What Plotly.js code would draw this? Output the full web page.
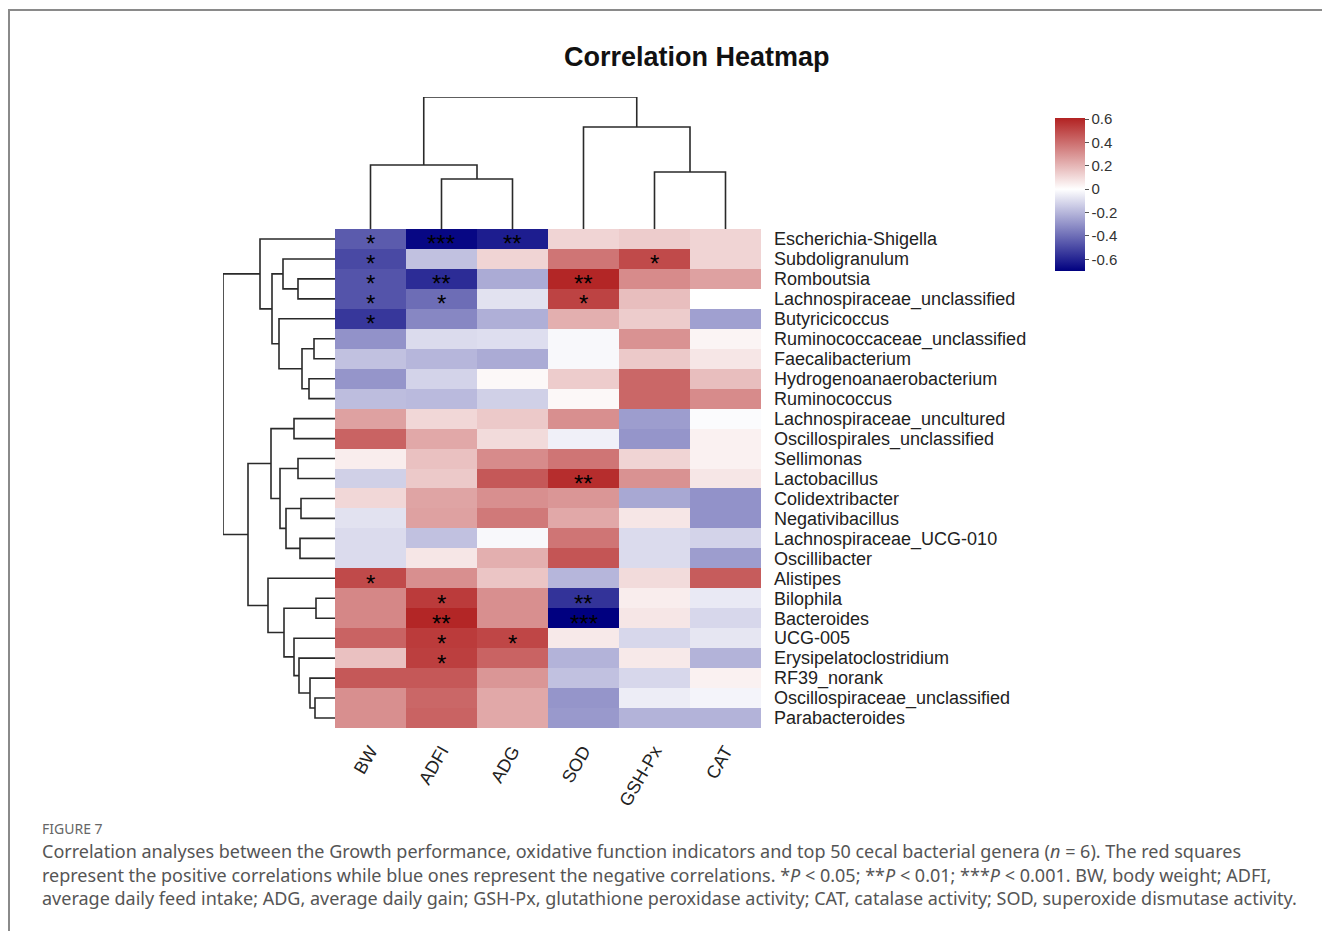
<!DOCTYPE html>
<html><head><meta charset="utf-8">
<script src="https://cdn.plot.ly/plotly-3.0.1.min.js"></script>
<style>html,body{margin:0;padding:0;background:#fff}#chart{width:1322px;height:931px}</style>
</head><body><div id="chart"></div>
<script>
// ---- data ----
const genera = ['Escherichia-Shigella','Subdoligranulum','Romboutsia','Lachnospiraceae_unclassified','Butyricicoccus',
  'Ruminococcaceae_unclassified','Faecalibacterium','Hydrogenoanaerobacterium','Ruminococcus','Lachnospiraceae_uncultured',
  'Oscillospirales_unclassified','Sellimonas','Lactobacillus','Colidextribacter','Negativibacillus',
  'Lachnospiraceae_UCG-010','Oscillibacter','Alistipes','Bilophila','Bacteroides',
  'UCG-005','Erysipelatoclostridium','RF39_norank','Oscillospiraceae_unclassified','Parabacteroides'];
const indicators = ['BW','ADFI','ADG','SOD','GSH-Px','CAT'];

const BW    = [-0.45,-0.50,-0.47,-0.47,-0.55,-0.30,-0.17,-0.29,-0.18,0.26,0.43,0.05,-0.13,0.11,-0.08,-0.10,-0.10,0.50,0.33,0.33,0.43,0.17,0.46,0.31,0.31];
const ADFI  = [-0.68,-0.17,-0.58,-0.40,-0.33,-0.10,-0.20,-0.12,-0.19,0.11,0.24,0.17,0.15,0.25,0.26,-0.17,0.07,0.31,0.54,0.60,0.54,0.53,0.46,0.42,0.43];
const ADG   = [-0.62,0.12,-0.23,-0.08,-0.22,-0.09,-0.23,0.02,-0.13,0.15,0.10,0.32,0.46,0.31,0.37,-0.02,0.22,0.16,0.31,0.31,0.51,0.43,0.29,0.24,0.24];
const SOD   = [0.12,0.38,0.60,0.52,0.22,-0.02,-0.02,0.14,0.02,0.31,-0.04,0.38,0.58,0.29,0.24,0.38,0.47,-0.20,-0.56,-0.70,0.06,-0.21,-0.17,-0.29,-0.28];
const GSHPx = [0.14,0.50,0.32,0.18,0.14,0.30,0.15,0.42,0.42,-0.27,-0.29,0.12,0.30,-0.24,0.07,-0.10,-0.10,0.10,0.05,0.07,-0.11,0.06,-0.11,-0.05,-0.21];
const CAT   = [0.12,0.12,0.26,0.00,-0.26,0.03,0.07,0.18,0.32,-0.01,0.04,0.04,0.07,-0.30,-0.30,-0.12,-0.27,0.45,-0.06,-0.11,-0.07,-0.21,0.04,-0.03,-0.21];

const starBW    = ['*','*','*','*','*','','','','','','','','','','','','','*','','','','','','',''];
const starADFI  = ['***','','**','*','','','','','','','','','','','','','','','*','**','*','*','','',''];
const starADG   = ['**','','','','','','','','','','','','','','','','','','','','*','','','',''];
const starSOD   = ['','','**','*','','','','','','','','','**','','','','','','**','***','','','','',''];
const starGSHPx = ['','*','','','','','','','','','','','','','','','','','','','','','','',''];
const starCAT   = ['','','','','','','','','','','','','','','','','','','','','','','','',''];

// hierarchical clustering merges: [childA, childB, height]; leaves 0..n-1, merges n, n+1, ...
const rowLinkage = [
  [2,3,37],[1,25,52],[5,6,21],[7,8,26],[27,28,33],[4,29,56],[26,30,63],[0,31,75],
  [9,10,41],[11,12,37],[13,14,34],[15,16,35],[35,36,49],[34,37,55],[33,38,64],
  [23,24,20],[22,40,25],[21,41,36],[20,42,41],[18,19,19],[44,43,51],[17,45,67],
  [39,46,87],[32,47,112]
];
const colLinkage = [[1,2,50],[0,6,64],[4,5,57],[3,8,102],[7,9,132]];

const cbTicks = [-0.6,-0.4,-0.2,0,0.2,0.4,0.6];
const cbTickText = ['-0.6','-0.4','-0.2','0','0.2','0.4','0.6'];
const zMin = -0.70, zMax = 0.61;

// ---- build ----
const W = 1322, H = 931;
const px = v => v / W, py = v => 1 - v / H;
const cols = [BW, ADFI, ADG, SOD, GSHPx, CAT];
const stars = [starBW, starADFI, starADG, starSOD, starGSHPx, starCAT];
const z = genera.map((g, r) => cols.map(c => c[r]));

function dendroPaths(link, n) {
  const pos = [], hgt = [];
  for (let i = 0; i < n; i++) { pos[i] = i; hgt[i] = 0; }
  const P = [], Hh = [];
  link.forEach((m, k) => {
    const [a, b, h] = m;
    P.push(pos[a], pos[a], pos[b], pos[b], null);
    Hh.push(hgt[a], h, h, hgt[b], null);
    pos[n + k] = (pos[a] + pos[b]) / 2; hgt[n + k] = h;
  });
  return {P, Hh};
}
const rowD = dendroPaths(rowLinkage, genera.length);
const colD = dendroPaths(colLinkage, indicators.length);
const rowMaxH = Math.max(...rowLinkage.map(m => m[2]));
const colMaxH = Math.max(...colLinkage.map(m => m[2]));

const wPos = -zMin / (zMax - zMin);
const FONT = "'Liberation Sans', Arial, sans-serif";

const traces = [
  {
    type: 'heatmap', z: z, x: indicators.map((d, i) => i), y: genera.map((d, i) => i),
    zmin: zMin, zmax: zMax,
    colorscale: [[0, '#000080'], [wPos, '#FFFFFF'], [1, '#B22222']],
    hoverinfo: 'skip',
    colorbar: {
      x: px(1055), xanchor: 'left', y: py(118), yanchor: 'top',
      len: 153, lenmode: 'pixels', thickness: 30, thicknessmode: 'pixels',
      outlinewidth: 0, tickvals: cbTicks, ticktext: cbTickText,
      ticks: 'outside', ticklen: 4, tickcolor: '#555', tickwidth: 1,
      tickfont: {family: FONT, size: 15, color: '#333'}, xpad: 0, ypad: 0
    }
  },
  { type: 'scatter', mode: 'lines', x: rowD.Hh, y: rowD.P, xaxis: 'x2', yaxis: 'y',
    line: {color: '#2a2a2a', width: 1.6}, hoverinfo: 'skip', showlegend: false, cliponaxis: false },
  { type: 'scatter', mode: 'lines', x: colD.P, y: colD.Hh, xaxis: 'x', yaxis: 'y2',
    line: {color: '#2a2a2a', width: 1.6}, hoverinfo: 'skip', showlegend: false, cliponaxis: false }
];

const annotations = [];
stars.forEach((col, c) => col.forEach((s, r) => {
  if (s) annotations.push({x: c, y: r, xref: 'x', yref: 'y', text: s, showarrow: false,
    yshift: -5, font: {family: FONT, size: 24, color: '#000'}});
}));
annotations.push({x: px(697), y: py(57), xref: 'paper', yref: 'paper', text: '<b>Correlation Heatmap</b>',
  showarrow: false, xanchor: 'center', yanchor: 'middle', font: {family: FONT, size: 27, color: '#111'}});
const CAP = "'Noto Sans', 'Open Sans', sans-serif";
annotations.push({x: px(40), y: py(828), xref: 'paper', yref: 'paper', text: 'FIGURE 7', showarrow: false,
  xanchor: 'left', yanchor: 'middle', font: {family: CAP, size: 14, color: '#666'}});
const capLines = [
  'Correlation analyses between the Growth performance, oxidative function indicators and top 50 cecal bacterial genera (<i>n</i> = 6). The red squares',
  'represent the positive correlations while blue ones represent the negative correlations. *<i>P</i> &lt; 0.05; **<i>P</i> &lt; 0.01; ***<i>P</i> &lt; 0.001. BW, body weight; ADFI,',
  'average daily feed intake; ADG, average daily gain; GSH-Px, glutathione peroxidase activity; CAT, catalase activity; SOD, superoxide dismutase activity.'
];
[851, 875, 898].forEach((yy, i) => annotations.push({x: px(40), y: py(yy), xref: 'paper', yref: 'paper',
  text: capLines[i], showarrow: false, xanchor: 'left', yanchor: 'middle',
  font: {family: CAP, size: 18, color: '#555'}}));

const layout = {
  width: W, height: H, margin: {l: 0, r: 0, t: 0, b: 0},
  paper_bgcolor: '#fff', plot_bgcolor: 'rgba(0,0,0,0)', showlegend: false,
  font: {family: FONT},
  xaxis: { domain: [px(335), px(761)], range: [-0.5, 5.5], tickvals: indicators.map((d, i) => i),
    ticktext: indicators, tickangle: -60, showgrid: false, zeroline: false, showline: false, ticks: '',
    ticklabelstandoff: 8, tickfont: {family: FONT, size: 18, color: '#222'}, anchor: 'y', fixedrange: true },
  yaxis: { domain: [py(728), py(229)], range: [24.5, -0.5], tickvals: genera.map((d, i) => i),
    ticktext: genera, side: 'right', showgrid: false, zeroline: false, showline: false, ticks: '',
    ticklabelstandoff: 12, tickfont: {family: FONT, size: 18, color: '#222'}, anchor: 'x', fixedrange: true },
  xaxis2: { domain: [px(223), px(335)], range: [rowMaxH, 0], visible: false, anchor: 'y', fixedrange: true },
  yaxis2: { domain: [py(229), py(97)], range: [0, colMaxH], visible: false, anchor: 'x', fixedrange: true },
  annotations: annotations,
  shapes: [{type: 'path', xref: 'paper', yref: 'paper',
    path: `M ${px(9)} ${py(931)} L ${px(9)} ${py(10)} L ${px(1322)} ${py(10)}`,
    line: {color: '#8a8a8a', width: 2}}]
};

Plotly.newPlot('chart', traces, layout, {displayModeBar: false, staticPlot: true});
</script></body></html>
